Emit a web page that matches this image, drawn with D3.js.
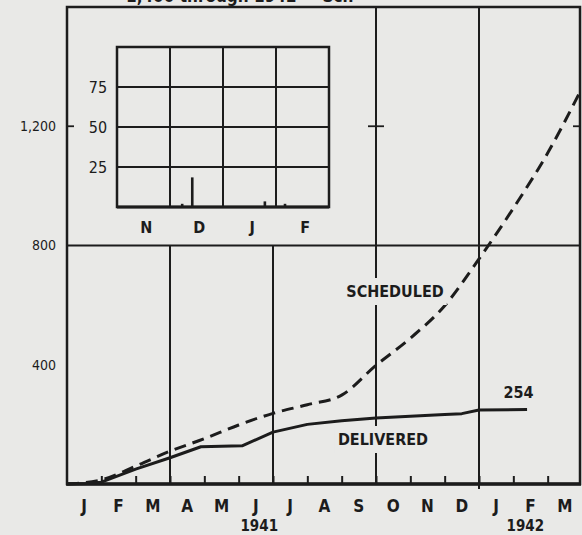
<!DOCTYPE html>
<html><head><meta charset="utf-8">
<script src="https://cdn.jsdelivr.net/npm/d3@7"></script>
<style>
html,body{margin:0;padding:0;background:#e9e9e7;}
svg{display:block;}
text{font-family:"DejaVu Sans Condensed","Liberation Sans Narrow","DejaVu Sans",sans-serif;fill:#1c1c1c;}
</style></head><body>
<svg id="chart" width="582" height="535"></svg>
<script>
// ---- data ----
const monthLabels = ["J","F","M","A","M","J","J","A","S","O","N","D","J","F","M"];
const yearLabels = [{label:"1941", m:5.6},{label:"1942", m:13.35}];
const yTicks = [400, 800, 1200];
// cumulative scheduled (month index from Jan 1941)
const schedMonths = [0, 1, 2, 3, 4, 5, 6, 7, 8, 9, 10, 11, 12, 13, 14, 15];
const schedValues = [0, 14, 60, 110, 152, 198, 237, 266, 298, 398, 489, 598, 755, 925, 1110, 1315];
// cumulative delivered
const delivMonths = [0, 0.6, 1, 2, 3, 3.9, 5.1, 6, 7, 8, 9, 10, 11, 11.5, 12, 13.4];
const delivValues = [0, 2, 6, 50, 88, 125, 128, 174, 200, 212, 221, 227, 233, 236, 248, 250];
const finalLabel = "254";
// inset: weekly deliveries Nov 1941 - Feb 1942
const insetMonthLabels = ["N","D","J","F"];
const insetTicks = [25, 50, 75];
const insetPos = [1.23, 1.42, 2.79, 3.17];
const insetValues = [2, 18.5, 3.5, 2];

// ---- layout ----
const svg = d3.select("#chart");
const ink = "#1c1c1c";
const bg = "#e9e9e7";
const x = d3.scaleLinear().domain([0, 15]).range([67, 582]);
const y = d3.scaleLinear().domain([0, 1600]).range([484, 7]);
const xRight = 580;

// cut-off title (only its lower edge shows in the reference)
svg.append("text").attr("x", 126).attr("y", 2).attr("font-size", 17).attr("font-weight", "bold")
  .attr("font-family", "DejaVu Serif, serif")
  .text("1,400  through 1942 \u2014 Sch");

// grid: vertical quarter lines
[3, 6].forEach(m => {
  svg.append("line").attr("x1", x(m)).attr("x2", x(m)).attr("y1", y(0)).attr("y2", y(800))
    .attr("stroke", ink).attr("stroke-width", 2);
});
[9, 12].forEach(m => {
  svg.append("line").attr("x1", x(m)).attr("x2", x(m)).attr("y1", y(0) + (m === 12 ? 5 : 0)).attr("y2", y(1600))
    .attr("stroke", ink).attr("stroke-width", 2);
});
// horizontal 800 line
svg.append("line").attr("x1", x(0)).attr("x2", xRight).attr("y1", y(800)).attr("y2", y(800))
  .attr("stroke", ink).attr("stroke-width", 2);
// 1200 ticks and cross
svg.append("line").attr("x1", x(0)).attr("x2", x(0) + 7).attr("y1", y(1200)).attr("y2", y(1200)).attr("stroke", ink).attr("stroke-width", 1.8);
svg.append("line").attr("x1", xRight - 7).attr("x2", xRight).attr("y1", y(1200)).attr("y2", y(1200)).attr("stroke", ink).attr("stroke-width", 1.8);
svg.append("line").attr("x1", x(9) - 8).attr("x2", x(9) + 8).attr("y1", y(1200)).attr("y2", y(1200)).attr("stroke", ink).attr("stroke-width", 1.8);

// month ticks on bottom axis (inward)
const bottomAxis = d3.axisTop(x).tickValues(d3.range(1, 15)).tickSize(8).tickFormat("");
svg.append("g").attr("transform", `translate(0,${y(0)})`).call(bottomAxis)
  .call(g => g.select(".domain").remove())
  .call(g => g.selectAll("line").attr("stroke", ink).attr("stroke-width", 2));

// curves
const sched = schedMonths.map((m, i) => [m, schedValues[i]]);
const deliv = delivMonths.map((m, i) => [m, delivValues[i]]);
svg.append("path").datum(sched)
  .attr("d", d3.line().x(d => Math.min(x(d[0]), xRight)).y(d => y(d[1])).curve(d3.curveMonotoneX))
  .attr("fill", "none").attr("stroke", ink).attr("stroke-width", 3).attr("stroke-dasharray", "12,7");
svg.append("path").datum(deliv)
  .attr("d", d3.line().x(d => x(d[0])).y(d => y(d[1])).curve(d3.curveLinear))
  .attr("fill", "none").attr("stroke", ink).attr("stroke-width", 3).attr("stroke-linejoin", "round");

// frame
svg.append("rect").attr("x", x(0)).attr("y", y(1600)).attr("width", xRight - x(0)).attr("height", y(0) - y(1600))
  .attr("fill", "none").attr("stroke", ink).attr("stroke-width", 2.5);
svg.append("line").attr("x1", x(0) - 1).attr("x2", xRight + 1).attr("y1", y(0)).attr("y2", y(0))
  .attr("stroke", ink).attr("stroke-width", 3.5);

// y labels
svg.selectAll(".ylab").data(yTicks).join("text").attr("class", "ylab")
  .attr("x", 56).attr("y", d => y(d)).attr("dy", "0.35em").attr("text-anchor", "end")
  .attr("font-size", 14).text(d => d3.format(",")(d));

// month labels
svg.selectAll(".mlab").data(monthLabels).join("text").attr("class", "mlab")
  .attr("x", (d, i) => x(i + 0.5)).attr("y", 512).attr("text-anchor", "middle")
  .attr("font-size", 17).attr("font-weight", "bold").text(d => d);
svg.selectAll(".ylabel").data(yearLabels).join("text").attr("class", "ylabel")
  .attr("x", d => x(d.m)).attr("y", 531).attr("text-anchor", "middle")
  .attr("font-size", 15).attr("font-weight", "bold").text(d => d.label);

// labels with masking background
function label(txt, cx, cy, size) {
  const t = svg.append("text").attr("x", cx).attr("y", cy).attr("text-anchor", "middle")
    .attr("font-size", size).attr("font-weight", "bold").text(txt);
  const b = t.node().getBBox();
  svg.insert("rect", () => t.node()).attr("x", b.x - 3).attr("y", b.y - 4).attr("width", b.width + 6).attr("height", b.height + 8)
    .attr("fill", bg);
}
label("SCHEDULED", 395, 297, 16);
label("DELIVERED", 383, 445, 16);
svg.append("text").attr("x", x(13.15)).attr("y", y(254) - 10).attr("text-anchor", "middle")
  .attr("font-size", 16).attr("font-weight", "bold").text(finalLabel);

// ---- inset ----
const ix = d3.scaleLinear().domain([0, 4]).range([117, 329]);
const iy = d3.scaleLinear().domain([0, 100]).range([207, 47]);
const inset = svg.append("g");
inset.append("rect").attr("x", ix(0)).attr("y", iy(100)).attr("width", ix(4) - ix(0)).attr("height", iy(0) - iy(100))
  .attr("fill", bg).attr("stroke", ink).attr("stroke-width", 2.5);
insetTicks.forEach(v => inset.append("line").attr("x1", ix(0)).attr("x2", ix(4)).attr("y1", iy(v)).attr("y2", iy(v))
  .attr("stroke", ink).attr("stroke-width", 2));
[1, 2, 3].forEach(m => inset.append("line").attr("x1", ix(m)).attr("x2", ix(m)).attr("y1", iy(0)).attr("y2", iy(100))
  .attr("stroke", ink).attr("stroke-width", 2));
inset.selectAll(".ibar").data(insetValues).join("rect").attr("class", "ibar")
  .attr("x", (d, i) => ix(insetPos[i]) - 1.3).attr("width", 2.6)
  .attr("y", d => iy(d)).attr("height", d => iy(0) - iy(d)).attr("fill", ink);
inset.append("line").attr("x1", ix(0)).attr("x2", ix(4)).attr("y1", iy(0)).attr("y2", iy(0))
  .attr("stroke", ink).attr("stroke-width", 3);
inset.selectAll(".itick").data(insetTicks).join("text").attr("class", "itick")
  .attr("x", 98).attr("y", d => iy(d)).attr("dy", "0.35em").attr("text-anchor", "middle")
  .attr("font-size", 16).text(d => d);
inset.selectAll(".imon").data(insetMonthLabels).join("text").attr("class", "imon")
  .attr("x", (d, i) => ix(i + 0.55)).attr("y", 233).attr("text-anchor", "middle")
  .attr("font-size", 16).attr("font-weight", "bold").text(d => d);
</script>
</body></html>
